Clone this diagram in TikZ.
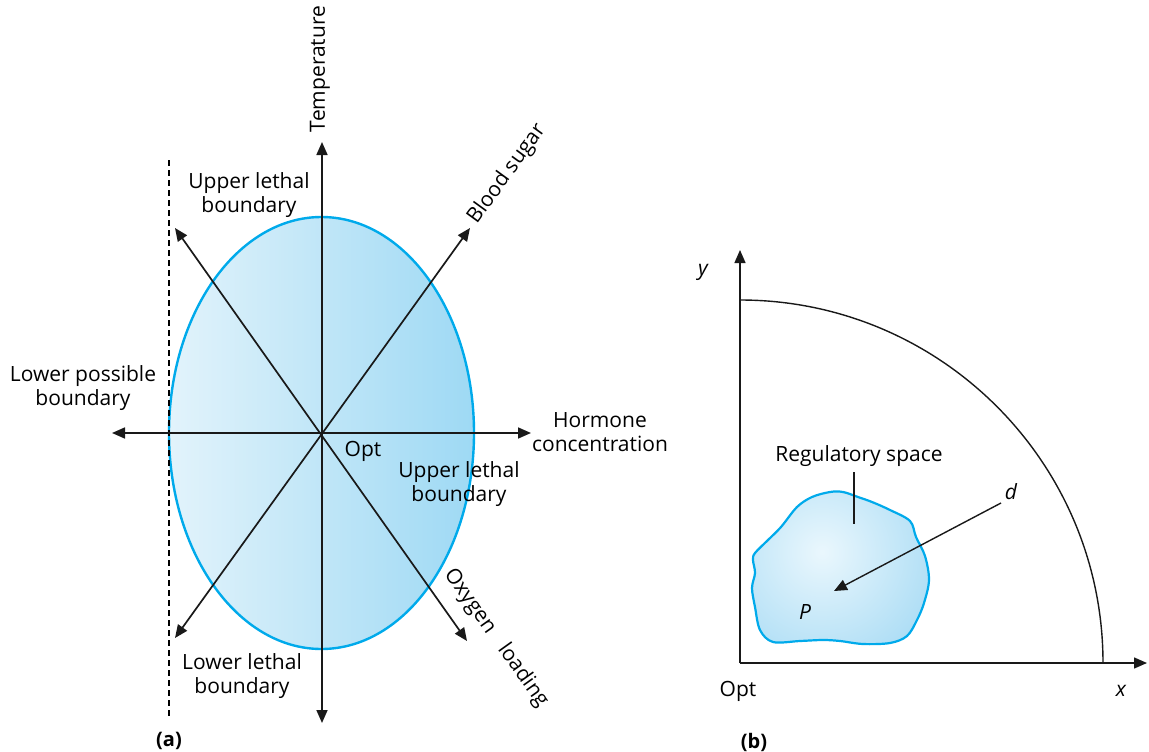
\documentclass[tikz,border=0pt]{standalone}
\usepackage{fontspec}
\setmainfont{Open Sans}
\usetikzlibrary{arrows.meta}
\definecolor{rimcyan}{RGB}{0,170,235}
\definecolor{fillleft}{RGB}{226,243,251}
\definecolor{fillright}{RGB}{158,217,244}
\definecolor{blobin}{RGB}{234,247,253}
\definecolor{blobout}{RGB}{158,215,243}
\begin{document}
\begin{tikzpicture}[x=1pt,y=-1pt,
  tip/.style={-{Triangle[length=13pt,width=11pt]}},
  both/.style={{Triangle[length=13pt,width=11pt]}-{Triangle[length=13pt,width=11pt]}},
  axisline/.style={line width=1.7pt,black!90},
  thinline/.style={line width=1.4pt,black!90},
  lbl/.style={font=\fontsize{21}{24}\selectfont, align=center, inner sep=0pt},
  panel/.style={font=\fontsize{20}{22}\selectfont\bfseries, inner sep=0pt}]
\useasboundingbox (0,0) rectangle (1149,752);

% ---------------- (a) tolerance ellipse ----------------
\coordinate (O) at (322,433);
\shade[left color=fillleft, right color=fillright]
  (321.5,433) ellipse [x radius=152.5, y radius=216];
\draw[rimcyan, line width=2.4pt] (321.5,433) ellipse [x radius=152.5, y radius=216];

\draw[dashed, line width=1.4pt, dash pattern=on 6pt off 4pt] (169,160) -- (169,716);

\coordinate (Ttop) at (322,142);
\coordinate (Tbot) at (322,723);
\coordinate (Hleft) at (112,433);
\coordinate (Hright) at (531,433);
\coordinate (ULtip) at (175,228);
\coordinate (LRtip) at (467,641);
\coordinate (LLtip) at (175,638);
\coordinate (URtip) at (470,228);

\draw[axisline, both] (Tbot) -- (Ttop);
\draw[axisline, both] (Hleft) -- (Hright);
\draw[axisline, both] (ULtip) -- (LRtip);
\draw[axisline, both] (LLtip) -- (URtip);

\node[lbl, rotate=90] (temp) at (320,69) {Temperature};
\node[lbl, rotate=54] (sugar) at (507,174) {Blood sugar};
\node[lbl, rotate=-54.5] (oxy) at (496,638) {Oxygen\hspace{0.6em} loading};
\node[lbl] (ul1) at (249,195) {Upper lethal\\boundary};
\node[lbl] (lpb) at (83,388) {Lower possible\\boundary};
\node[lbl] (horm) at (600,432) {Hormone\\concentration};
\node[lbl] (opt) at (363,451) {Opt};
\node[lbl] (ul2) at (459,484) {Upper lethal\\boundary};
\node[lbl] (ll) at (242,676) {Lower lethal\\boundary};
\node[panel] (pa) at (169,741) {(a)};

% ---------------- (b) regulatory space ----------------
\coordinate (Ob) at (740,663);
\coordinate (Yend) at (740,250);
\coordinate (Xend) at (1147,663);
\coordinate (arcstart) at (740,300);

\def\blobpath{plot[smooth cycle, tension=0.55] coordinates {
  (755,553) (768,540) (781,527) (797,507) (812,497) (830,492) (843,492)
  (858,497) (872,502) (890,510) (910,521) (916,537) (925,556) (929,580)
  (924,603) (917,620) (907,636) (890,643) (863,644) (840,641) (823,640)
  (800,641) (773,642) (760,630) (755,607) (752,588) (755,573) (753,560)}}
\begin{scope}
  \clip \blobpath;
  \shade[inner color=blobin, outer color=blobout] (822,552) circle (150);
\end{scope}
\draw[rimcyan, line width=2.2pt] \blobpath;

\draw[thinline, tip] (Ob) -- (Yend);
\draw[thinline, tip] (Ob) -- (Xend);
\draw[thinline] (arcstart) arc[start angle=-90, end angle=0, radius=363];

\node[lbl] (ylab) at (703,272) {\itshape y};
\node[lbl] (xlab) at (1121,691) {\itshape x};
\node[lbl] (optb) at (738,691) {Opt};
\node[panel] (pb) at (754,742) {(b)};

\node[lbl] (reg) at (859,456) {Regulatory space};
\coordinate (regtop) at (854,472);
\coordinate (regbot) at (854,524);
\draw[thinline] (regtop) -- (regbot);

\node[lbl] (dlab) at (1011,492) {\itshape d};
\coordinate (dstart) at (1001,503);
\coordinate (Ppt) at (834,591);
\draw[thinline, tip] (dstart) -- (Ppt);
\node[lbl] (plab) at (805,612) {\itshape P};
\end{tikzpicture}
\end{document}
